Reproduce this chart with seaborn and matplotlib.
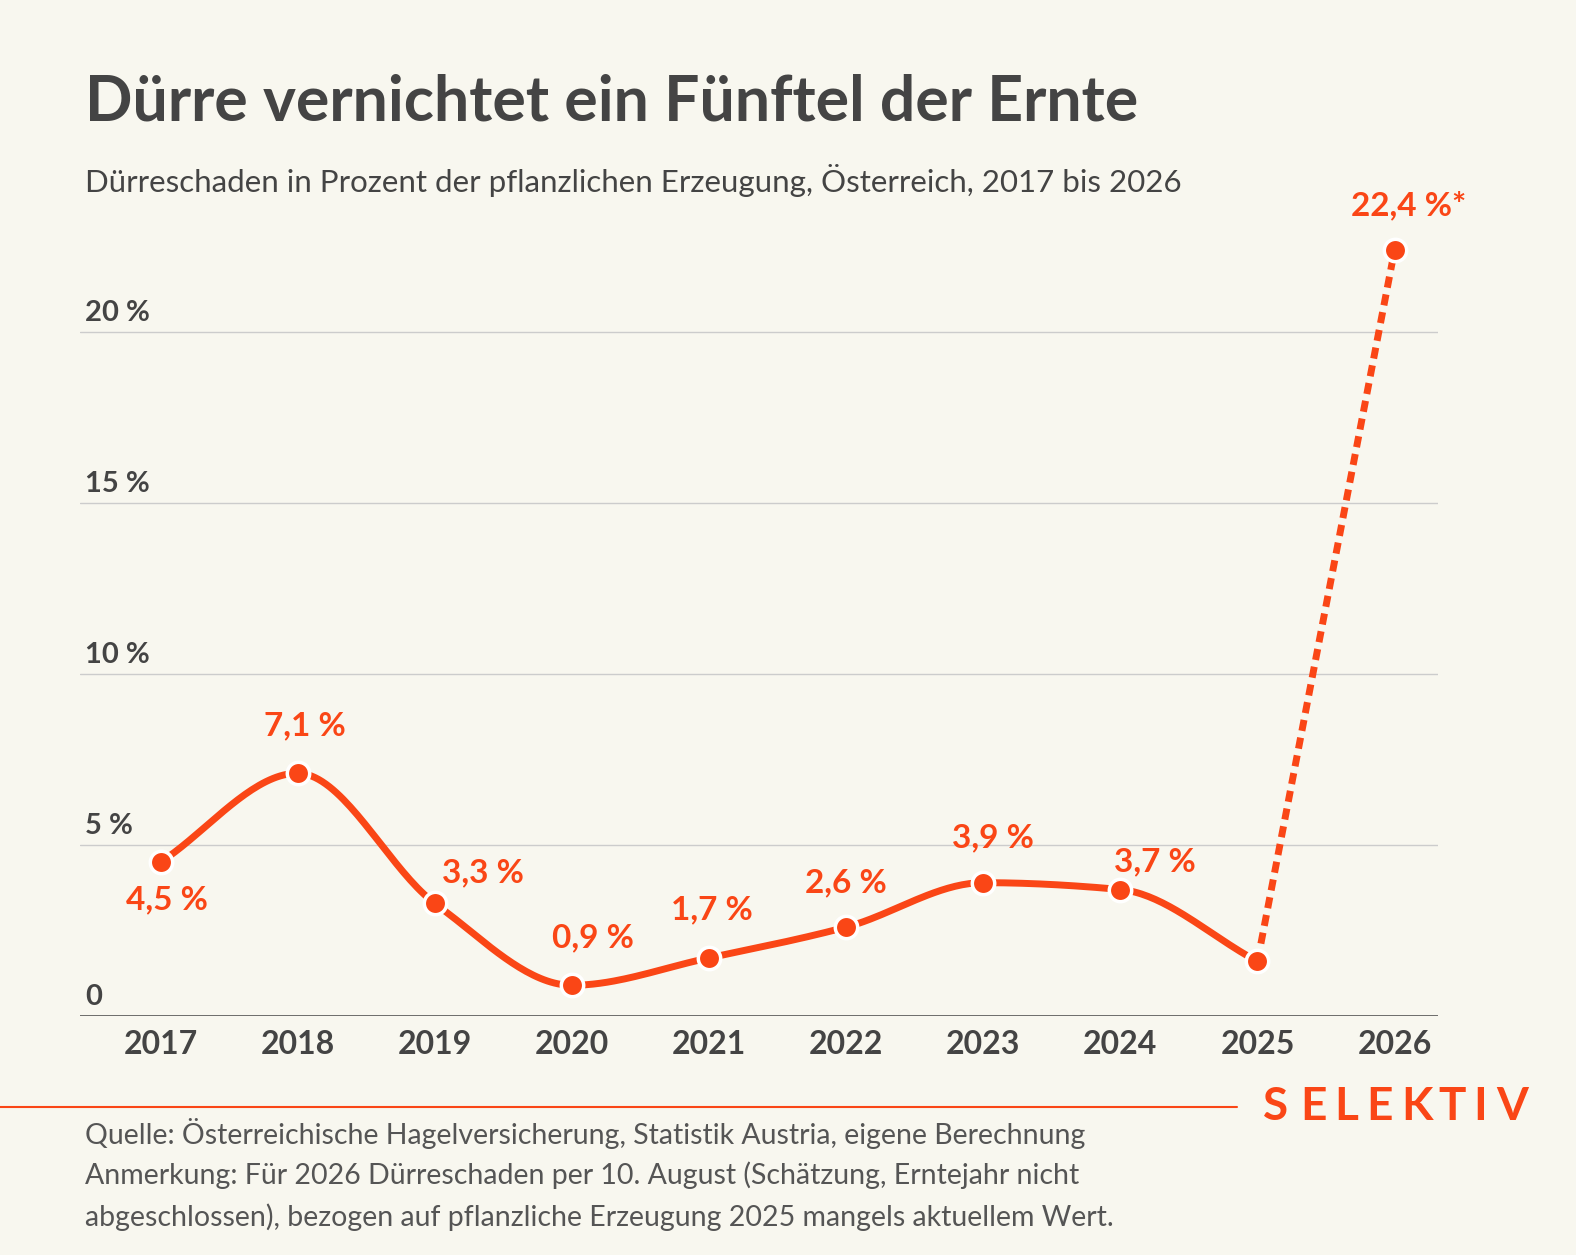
import matplotlib
matplotlib.use("Agg")
import numpy as np
import matplotlib.pyplot as plt
import seaborn as sns

years = [2017, 2018, 2019, 2020, 2021, 2022, 2023, 2024, 2025, 2026]
values = [4.5, 7.1, 3.3, 0.9, 1.7, 2.6, 3.9, 3.7, 1.6, 22.4]
labels = ["4,5 %", "7,1 %", "3,3 %", "0,9 %", "1,7 %", "2,6 %", "3,9 %", "3,7 %", "", "22,4 %*"]
yticks = [0, 5, 10, 15, 20]
ytick_labels = ["0", "5 %", "10 %", "15 %", "20 %"]

BG = "#f8f7ef"
RED = "#fa4616"
DARK = "#444444"

sns.set_theme(style="white")
plt.rcParams["font.family"] = ["Lato", "DejaVu Sans"]


def monotone(x, y, n=40):
    # monotone cubic (Fritsch-Carlson) like d3 curveMonotoneX
    x = np.asarray(x, float); y = np.asarray(y, float)
    h = np.diff(x); d = np.diff(y) / h
    m = np.zeros_like(y)
    m[0], m[-1] = d[0], d[-1]
    for i in range(1, len(y) - 1):
        if d[i - 1] * d[i] <= 0:
            m[i] = 0
        else:
            m[i] = 3 * (h[i - 1] + h[i]) / ((2 * h[i] + h[i - 1]) / d[i - 1] + (h[i] + 2 * h[i - 1]) / d[i])
    xs, ys = [], []
    for i in range(len(h)):
        t = np.linspace(0, 1, n)
        h00 = 2*t**3 - 3*t**2 + 1; h10 = t**3 - 2*t**2 + t
        h01 = -2*t**3 + 3*t**2; h11 = t**3 - t**2
        xs.append(x[i] + t * h[i])
        ys.append(h00*y[i] + h10*h[i]*m[i] + h01*y[i+1] + h11*h[i]*m[i+1])
    return np.concatenate(xs), np.concatenate(ys)


fig = plt.figure(figsize=(15.76, 12.55), dpi=100, facecolor=BG)
ax = fig.add_axes([0.0508, 0.1904, 0.8615, 0.6502])
ax.set_facecolor(BG)

sx, sy = monotone(years[:9], values[:9])
sns.lineplot(x=sx, y=sy, ax=ax, color=RED, lw=5, sort=False)
ax.plot(years[8:], values[8:], color=RED, lw=5, ls=(0, (1.6, 1.0)))
ax.scatter(years, values, s=260, color=RED, edgecolor="white", linewidth=2.5, zorder=5)

offsets = [(0.05, -1.1), (0.05, 1.4), (0.35, 0.9), (0.15, 1.4), (0.02, 1.4),
           (0.0, 1.3), (0.07, 1.3), (0.25, 0.8), (0, 0), (0.1, 1.3)]
for x, v, lab, (dx, dy) in zip(years, values, labels, offsets):
    if lab:
        ax.text(x + dx, v + dy, lab, color=RED, fontsize=24, fontweight="bold",
                ha="center", va="center")

ax.set_xlim(2016.413, 2026.315)
ax.set_ylim(0, 23.86)
for yv, yl in zip(yticks, ytick_labels):
    ax.axhline(yv, color="#555555" if yv == 0 else "#cccccc", lw=1.2 if yv == 0 else 1, zorder=0)
    ax.text(2016.45, yv + 0.55, yl, fontsize=21, color=DARK, fontweight="bold", va="center")
ax.set_yticks([])
ax.set_xticks(years)
ax.set_xticklabels([str(y) for y in years], fontsize=23, fontweight="bold", color=DARK)
ax.tick_params(axis="x", length=0, pad=10)
sns.despine(ax=ax, left=True, bottom=True)

fig.text(0.054, 0.918, "Dürre vernichtet ein Fünftel der Ernte", fontsize=45,
         fontweight="bold", color=DARK, va="center")
fig.text(0.054, 0.856, "Dürreschaden in Prozent der pflanzlichen Erzeugung, Österreich, 2017 bis 2026",
         fontsize=22.5, color=DARK, va="center")
fig.add_artist(plt.Line2D([0, 0.785], [0.118, 0.118], color=RED, lw=1.5))
sel_px = [1276, 1313, 1346, 1380, 1417, 1452, 1480, 1512]
for px, ch in zip(sel_px, "SELEKTIV"):
    fig.text(px / 1576, 0.118, ch, fontsize=33, fontweight="bold", color=RED, ha="center", va="center")
foot = ["Quelle: Österreichische Hagelversicherung, Statistik Austria, eigene Berechnung",
        "Anmerkung: Für 2026 Dürreschaden per 10. August (Schätzung, Erntejahr nicht",
        "abgeschlossen), bezogen auf pflanzliche Erzeugung 2025 mangels aktuellem Wert."]
for i, line in enumerate(foot):
    fig.text(0.054, 0.097 - i * 0.0335, line, fontsize=20.5, color="#555555", va="center")

fig.savefig("out.png", dpi=100, facecolor=BG)
